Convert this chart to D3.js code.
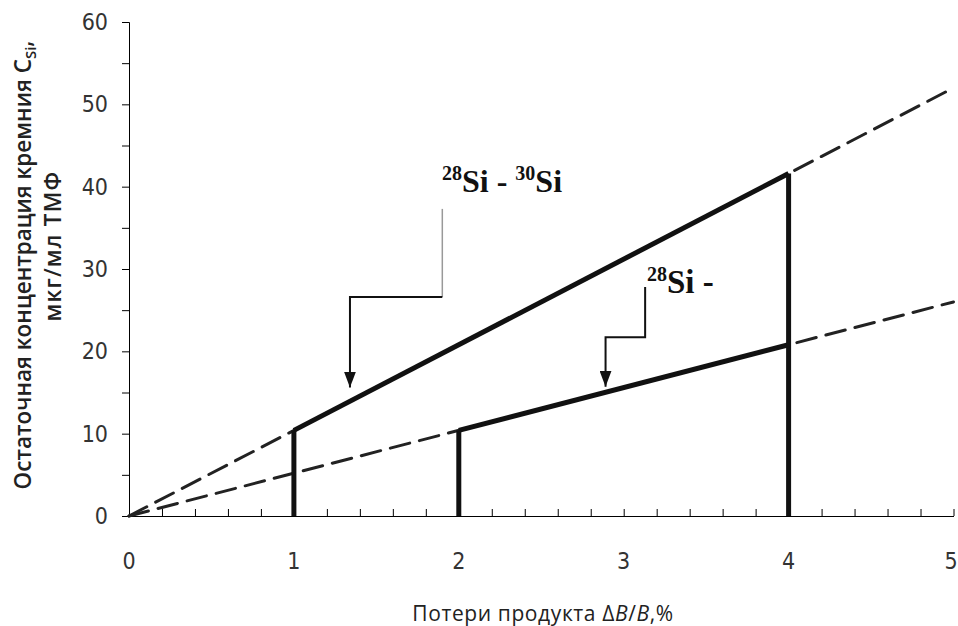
<!DOCTYPE html>
<html>
<head>
<meta charset="utf-8">
<script src="https://cdn.jsdelivr.net/npm/d3@7"></script>
<style>
  body { margin: 0; background: #fff; }
  svg { display: block; }
</style>
</head>
<body>
<svg></svg>
<script>
// data
let xTicks = [0, 1, 2, 3, 4, 5]
let yTicks = [0, 10, 20, 30, 40, 50, 60]
let upperDashed = [[0, 0], [5, 52]]
let upperSolid = [[1, 10.4], [4, 41.6]]
let lowerDashed = [[0, 0], [5, 26]]
let lowerSolid = [[2, 10.4], [4, 20.8]]
let verticals = [[1, 10.4], [2, 10.4], [4, 41.6]]

// leader lines for the labels (data coordinates)
let leader1 = [[1.90, 37.3], [1.90, 26.6], [1.34, 26.6], [1.34, 15.6]]
let leader2 = [[3.13, 27.8], [3.13, 21.7], [2.89, 21.7], [2.89, 15.7]]

let width = 958
let height = 626
let plotLeft = 129, plotRight = 953.5, plotTop = 22, plotBottom = 516

let svg = d3.select('svg').attr('width', width).attr('height', height)

let xScale = d3.scaleLinear().domain([0, 5]).range([plotLeft, plotRight])
let yScale = d3.scaleLinear().domain([0, 60]).range([plotBottom, plotTop])

let tickFont = "'Liberation Sans Narrow', 'DejaVu Sans Condensed', 'Open Sans', sans-serif"
let titleFont = "'Open Sans', sans-serif"

// y axis
let yAxis = d3.axisLeft(yScale).tickValues(d3.range(0, 61, 5)).tickSize(7).tickFormat('')
svg.append('g').attr('transform', 'translate(' + plotLeft + ',0)').call(yAxis)
    .call(g => g.selectAll('path,line').attr('stroke', '#000'))

svg.append('g').selectAll('text').data(yTicks).enter().append('text')
    .attr('x', 108).attr('y', d => yScale(d) + 8)
    .attr('text-anchor', 'end')
    .attr('font-family', tickFont).attr('font-size', 23).attr('fill', '#333')
    .text(d => d)

// x axis with small ticks pointing up
let xAxis = d3.axisTop(xScale).tickValues(d3.range(0, 5.01, 0.2)).tickSize(7).tickFormat('').tickSizeOuter(0)
svg.append('g').attr('transform', 'translate(0,' + plotBottom + ')').call(xAxis)
    .call(g => g.selectAll('path,line').attr('stroke', '#000'))

// last label would run off the right edge, keep it inside
svg.append('g').selectAll('text').data(xTicks).enter().append('text')
    .attr('x', d => Math.min(xScale(d), width - 7)).attr('y', 569)
    .attr('text-anchor', 'middle')
    .attr('font-family', tickFont).attr('font-size', 23).attr('fill', '#333')
    .text(d => d)

let line = d3.line().x(d => xScale(d[0])).y(d => yScale(d[1]))

// dashed extensions
;[upperDashed, lowerDashed].forEach(pts => {
    svg.append('path').attr('d', line(pts))
        .attr('fill', 'none').attr('stroke', '#222').attr('stroke-width', 3)
        .attr('stroke-dasharray', '20,10').attr('stroke-linecap', 'round')
})

// solid segments
;[upperSolid, lowerSolid].forEach(pts => {
    svg.append('path').attr('d', line(pts))
        .attr('fill', 'none').attr('stroke', '#111').attr('stroke-width', 5)
})

// vertical bars
svg.selectAll('.vbar').data(verticals).enter().append('line')
    .attr('class', 'vbar')
    .attr('x1', d => xScale(d[0])).attr('x2', d => xScale(d[0]))
    .attr('y1', yScale(0)).attr('y2', d => yScale(d[1]))
    .attr('stroke', '#111').attr('stroke-width', 5)

// arrowheads
svg.append('defs').append('marker')
    .attr('id', 'arrow').attr('viewBox', '0 0 12 16')
    .attr('refX', 6).attr('refY', 16)
    .attr('markerWidth', 12).attr('markerHeight', 16)
    .attr('markerUnits', 'userSpaceOnUse').attr('orient', 0)
    .append('path').attr('d', 'M0,0 L12,0 L6,16 Z').attr('fill', '#111')

let drawLeader = (pts, grayTop) => {
    if (grayTop) {
        svg.append('path').attr('d', line(pts.slice(0, 2)))
            .attr('fill', 'none').attr('stroke', '#999').attr('stroke-width', 1.5)
        svg.append('path').attr('d', line(pts.slice(1)))
            .attr('fill', 'none').attr('stroke', '#111').attr('stroke-width', 2)
            .attr('marker-end', 'url(#arrow)')
    } else {
        svg.append('path').attr('d', line(pts))
            .attr('fill', 'none').attr('stroke', '#111').attr('stroke-width', 2)
            .attr('marker-end', 'url(#arrow)')
    }
}
drawLeader(leader1, true)
drawLeader(leader2, false)

// labels
let serif = "'Liberation Serif', 'Times New Roman', serif"
let label1 = svg.append('text').attr('x', 442).attr('y', 192)
    .attr('font-family', serif).attr('font-weight', 'bold').attr('font-size', 32).attr('fill', '#111')
label1.append('tspan').attr('font-size', 20).attr('dy', -12).text('28')
label1.append('tspan').attr('dy', 12).text('Si - ')
label1.append('tspan').attr('font-size', 20).attr('dy', -12).text('30')
label1.append('tspan').attr('dy', 12).text('Si')

let label2 = svg.append('text').attr('x', 647).attr('y', 293)
    .attr('font-family', serif).attr('font-weight', 'bold').attr('font-size', 33).attr('fill', '#111')
label2.append('tspan').attr('font-size', 20).attr('dy', -12).text('28')
label2.append('tspan').attr('dy', 12).text('Si -')

// axis titles
let yt1 = svg.append('text').attr('transform', 'translate(31,265) rotate(-90)')
    .attr('text-anchor', 'middle').attr('font-family', titleFont).attr('font-weight', 600)
    .attr('font-size', 22.5).attr('fill', '#222')
yt1.append('tspan').text('Остаточная концентрация кремния C')
yt1.append('tspan').attr('font-size', 15).attr('dy', 5).text('Si')
yt1.append('tspan').attr('dy', -5).text(',')
svg.append('text').attr('transform', 'translate(61,246) rotate(-90)')
    .attr('text-anchor', 'middle').attr('font-family', titleFont).attr('font-weight', 600)
    .attr('font-size', 22.5).attr('letter-spacing', 1.2).attr('fill', '#222')
    .text('мкг/мл ТМФ')

let xt = svg.append('text').attr('x', 543).attr('y', 621)
    .attr('text-anchor', 'middle').attr('font-family', titleFont)
    .attr('font-size', 21).attr('letter-spacing', 0.6).attr('fill', '#222')
xt.append('tspan').text('Потери продукта Δ')
xt.append('tspan').attr('font-style', 'italic').text('B')
xt.append('tspan').text('/')
xt.append('tspan').attr('font-style', 'italic').text('B')
xt.append('tspan').text(',%')
</script>
</body>
</html>
